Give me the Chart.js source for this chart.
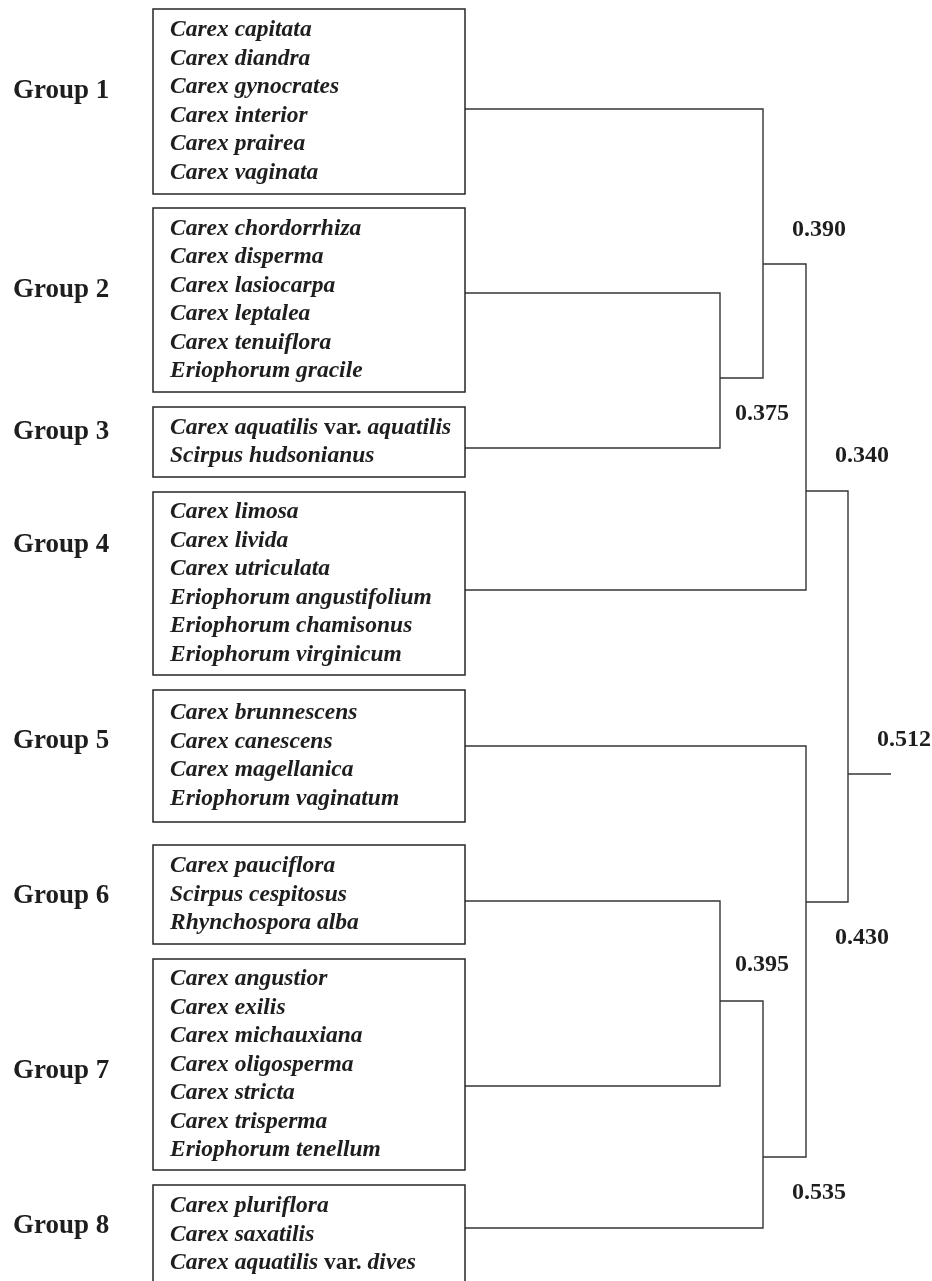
<!DOCTYPE html>
<html>
<head>
<meta charset="utf-8">
<title>Sedge groups dendrogram</title>
<script src="https://cdn.jsdelivr.net/npm/chart.js@4.4.0/dist/chart.umd.min.js"></script>
<style>
  html, body { margin: 0; padding: 0; background: #fff; }
  canvas { display: block; }
</style>
</head>
<body>
<canvas id="dendro" width="932" height="1281"></canvas>
<script>
// groups (leaves of the tree), top to bottom
const groupNames = ['Group 1', 'Group 2', 'Group 3', 'Group 4', 'Group 5', 'Group 6', 'Group 7', 'Group 8'];

// species in each group; text between |...| is set upright, the rest italic
const groupSpecies = [
    ['Carex capitata', 'Carex diandra', 'Carex gynocrates', 'Carex interior', 'Carex prairea', 'Carex vaginata'],
    ['Carex chordorrhiza', 'Carex disperma', 'Carex lasiocarpa', 'Carex leptalea', 'Carex tenuiflora', 'Eriophorum gracile'],
    ['Carex aquatilis |var.| aquatilis', 'Scirpus hudsonianus'],
    ['Carex limosa', 'Carex livida', 'Carex utriculata', 'Eriophorum angustifolium', 'Eriophorum chamisonus', 'Eriophorum virginicum'],
    ['Carex brunnescens', 'Carex canescens', 'Carex magellanica', 'Eriophorum vaginatum'],
    ['Carex pauciflora', 'Scirpus cespitosus', 'Rhynchospora alba'],
    ['Carex angustior', 'Carex exilis', 'Carex michauxiana', 'Carex oligosperma', 'Carex stricta', 'Carex trisperma', 'Eriophorum tenellum'],
    ['Carex pluriflora', 'Carex saxatilis', 'Carex aquatilis |var.| dives']
];

// height at which each group's branch leaves its box
const leafY = [109, 293, 448, 590, 746, 901, 1086, 1228];

// merges, in order: children are gN (group N) or nN (earlier merge N)
const mergeChildren = [['g1', 'g2'], ['g0', 'n0'], ['n1', 'g3'], ['g5', 'g6'], ['n3', 'g7'], ['g4', 'n4'], ['n2', 'n5']];
const mergeX = [720, 763, 806, 720, 763, 806, 848];
const mergeY = [378, 264, 491, 1001, 1157, 902, 774];
const mergeLabels = ['0.375', '0.390', '0.340', '0.395', '0.535', '0.430', '0.512'];
const rootEndX = 891;

// ---- layout (not data) ----
const BOX_LEFT = 153, BOX_RIGHT = 465;
const boxTop = [9, 208, 407, 492, 690, 845, 959, 1185];
const boxBottom = [194, 392, 477, 675, 822, 944, 1170, 1284];
const groupLabelY = [91, 290, 432, 545, 741, 896, 1071, 1226];
const labelDx = [15, 29, 29, 15, 29, 29, 29];
const labelDy = [36, -34, -35, -36, 36, 36, -34];
const ROW_H = 28.5;
const SERIF = '"Liberation Serif", "Times New Roman", serif';
const LINE_COLOR = '#353535';

function childPoint(id) {
    const i = +id.slice(1);
    if (id[0] === 'g') return { x: BOX_RIGHT, y: leafY[i] };
    return { x: mergeX[i], y: mergeY[i] };
}

const datasets = mergeChildren.map((pair, i) => {
    const a = childPoint(pair[0]);
    const b = childPoint(pair[1]);
    return {
        label: mergeLabels[i],
        data: [a, { x: mergeX[i], y: a.y }, { x: mergeX[i], y: b.y }, b]
    };
});
const last = mergeX.length - 1;
datasets.push({
    label: 'root',
    data: [{ x: mergeX[last], y: mergeY[last] }, { x: rootEndX, y: mergeY[last] }]
});
datasets.forEach(ds => {
    ds.showLine = true;
    ds.borderColor = LINE_COLOR;
    ds.borderWidth = 1.4;
    ds.pointRadius = 0;
    ds.tension = 0;
    ds.fill = false;
});

function drawMixed(c, text, x, y) {
    text.split('|').forEach((part, k) => {
        c.font = (k % 2 ? 'bold ' : 'italic bold ') + '23.5px ' + SERIF;
        c.fillText(part, x, y);
        x += c.measureText(part).width;
    });
}

const boxesAndText = {
    id: 'boxesAndText',
    afterDatasetsDraw(chart) {
        const c = chart.ctx;
        const xs = chart.scales.x, ys = chart.scales.y;
        c.save();
        c.textBaseline = 'middle';
        c.fillStyle = '#1e1e1e';

        // group boxes with species lists
        for (let g = 0; g < groupNames.length; g++) {
            const left = xs.getPixelForValue(BOX_LEFT);
            const right = xs.getPixelForValue(BOX_RIGHT);
            const top = ys.getPixelForValue(boxTop[g]);
            const bottom = ys.getPixelForValue(boxBottom[g]);
            c.strokeStyle = '#262626';
            c.lineWidth = 1.5;
            c.strokeRect(left, top, right - left, bottom - top);

            const rows = groupSpecies[g];
            const start = top + (bottom - top - rows.length * ROW_H) / 2 + ROW_H / 2;
            c.textAlign = 'left';
            rows.forEach((name, r) => drawMixed(c, name, left + 17, start + r * ROW_H));

            c.font = 'bold 27px ' + SERIF;
            c.fillText(groupNames[g], xs.getPixelForValue(13), ys.getPixelForValue(groupLabelY[g]));
        }

        // similarity values at the merges
        c.font = 'bold 24px ' + SERIF;
        c.textAlign = 'left';
        mergeLabels.forEach((lab, i) => {
            c.fillText(lab, xs.getPixelForValue(mergeX[i] + labelDx[i]), ys.getPixelForValue(mergeY[i] + labelDy[i]));
        });
        c.restore();
    }
};

new Chart(document.getElementById('dendro'), {
    type: 'scatter',
    data: { datasets: datasets },
    options: {
        responsive: false,
        animation: false,
        devicePixelRatio: 1,
        layout: { padding: 0 },
        scales: {
            x: { type: 'linear', min: 0, max: 932, display: false },
            y: { type: 'linear', min: 0, max: 1281, reverse: true, display: false }
        },
        plugins: {
            legend: { display: false },
            tooltip: { enabled: false }
        }
    },
    plugins: [boxesAndText]
});
</script>
</body>
</html>
